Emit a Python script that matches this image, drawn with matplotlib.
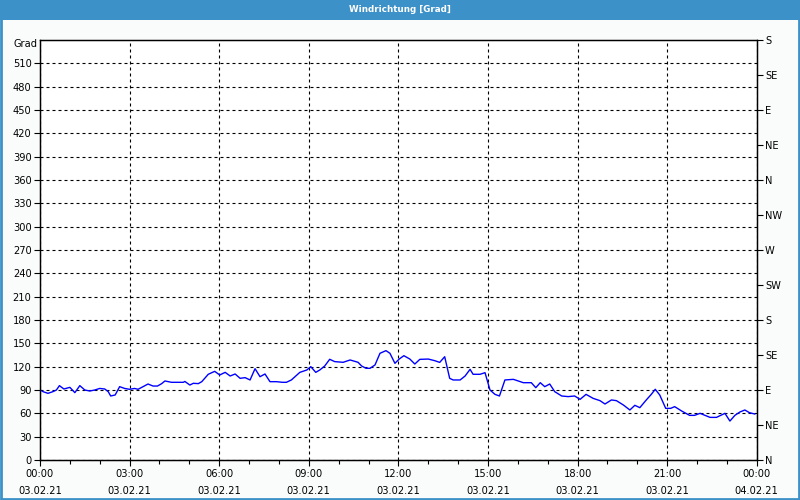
import numpy as np
import matplotlib
matplotlib.use('Agg')
import matplotlib.pyplot as plt
from matplotlib.patches import Rectangle

# wind direction samples, minutes after 00:00 03.02.21
minutes = [1, 6, 16, 26, 33, 39, 48, 60, 65, 70, 80, 90, 100, 110, 120, 130,
           137, 142, 151, 160, 170, 180, 190, 197, 207, 217, 227, 236,
           244, 251, 264, 288, 291, 301, 308, 318, 325, 338, 351, 361, 372,
           382, 392, 402, 412, 422, 432, 442, 452, 462, 475, 487,
           495, 505, 522, 536, 544, 554, 562, 572, 582, 592, 609, 623, 639,
           646, 655, 663, 673, 683, 695, 703, 713, 722, 731, 743, 753, 763,
           780, 793, 803, 813, 823, 830, 844, 854, 864, 870, 884, 894, 904,
           914, 923, 934, 951, 971, 987, 996, 1005, 1014, 1024, 1034, 1048,
           1061, 1074, 1085, 1097, 1111, 1125, 1135, 1148, 1158, 1172, 1185,
           1195, 1205, 1218, 1228, 1236, 1245, 1257, 1267, 1275, 1289, 1305,
           1315, 1326, 1336, 1346, 1359, 1376, 1386, 1396, 1406, 1416, 1425,
           1436]
grad = [90, 87.9, 85.7, 87.9, 90, 95.6, 91.3, 93.4, 90, 86.6, 95.6, 90,
        88.7, 90, 92, 91.3, 87.9, 82.3, 83.6, 94.3, 92, 90.9, 92, 90.9, 94.3,
        97.7, 95.1, 95.1, 98, 101.6, 99.9, 99.9, 101, 96.4, 98.6, 98.2, 100.7,
        110.2, 114, 109.3, 112.7, 108, 110.6, 105, 105.9, 102.9, 117.4, 107.1,
        110.6, 100.7, 100.7, 99.9, 99.9, 102.9, 112.7, 115.7, 120, 112.7,
        115.7, 120.9, 129.5, 126.5, 125.6, 128.6, 125.6, 120.9, 117.9, 117.9,
        122.2, 137.2, 140.6, 137.2, 124.3, 130, 134.1, 129.8, 123.4, 129.4,
        129.8, 127.7, 125.5, 132.8, 105, 102.9, 102.9, 108, 116.6, 110.2,
        110.2, 112.3, 90, 84.4, 82.3, 102.9, 103.7, 99.4, 99.4, 93, 99.4,
        94.3, 97.7, 87.9, 82.3, 81.5, 82.3, 78, 84.4, 79.3, 76.3, 72, 77.2,
        76.3, 70.7, 64.3, 70.3, 67.3, 77.2, 84.4, 90.9, 83.6, 66.4, 66.4,
        68.6, 63, 57.4, 57.4, 60, 57.4, 54.8, 54.8, 60, 50.1, 57.4, 61.7,
        64.3, 60.9, 59.1]

time_labels = ['00:00', '03:00', '06:00', '09:00', '12:00', '15:00', '18:00', '21:00', '00:00']
date_labels = ['03.02.21'] * 8 + ['04.02.21']
compass = ['N', 'NE', 'E', 'SE', 'S', 'SW', 'W', 'NW', 'N', 'NE', 'E', 'SE', 'S']

plt.rcParams['font.family'] = ['Liberation Sans Narrow', 'DejaVu Sans']
blue = '#3c91c8'
fs = 7.1

fig = plt.figure(figsize=(8, 5), dpi=100, facecolor='#fafcfb')
ax = fig.add_axes([0.05, 0.08, 0.896, 0.84])
ax.set_facecolor('white')

hours = np.array(minutes) / 60.0
ax.plot(hours, grad, color='#0000ff', lw=1)

ax.set_xlim(0, 24)
ax.set_ylim(0, 540)
ax.set_yticks(np.arange(0, 511, 30))
ax.set_xticks(np.arange(0, 25, 3))
ax.set_xticks(np.arange(0, 25, 1), minor=True)
ax.set_xticklabels([t + '\n' + d for t, d in zip(time_labels, date_labels)], linespacing=1.85)
ax.tick_params(axis='both', labelsize=fs, length=4, width=0.8, pad=2)
ax.tick_params(axis='x', which='minor', length=3, width=0.8)
ax.tick_params(axis='x', pad=2.5)

ax.grid(True, color='black', lw=0.8, linestyle=(0, (2.7, 2.7)))
for s in ax.spines.values():
    s.set_linewidth(1)

ax2 = ax.twinx()
ax2.set_ylim(0, 540)
ax2.set_yticks(np.arange(0, 541, 45))
ax2.set_yticklabels(compass)
ax2.tick_params(axis='y', labelsize=fs, length=4, width=0.8, pad=2)

fig.text(38 / 800, 1 - 44 / 500, 'Grad', fontsize=fs, ha='right', va='center')

# title bar and frame
fig.patches.append(Rectangle((0, 0.96), 1, 0.04, transform=fig.transFigure,
                             facecolor=blue, edgecolor='none', zorder=0))
fig.patches.append(Rectangle((0.001, 0.002), 0.998, 0.996, transform=fig.transFigure,
                             fill=False, edgecolor=blue, lw=2, zorder=1))
fig.text(0.5, 0.98, 'Windrichtung [Grad]', color='white', fontsize=6.3,
         fontweight='bold', ha='center', va='center')

fig.savefig('out.png', dpi=100, facecolor=fig.get_facecolor())
